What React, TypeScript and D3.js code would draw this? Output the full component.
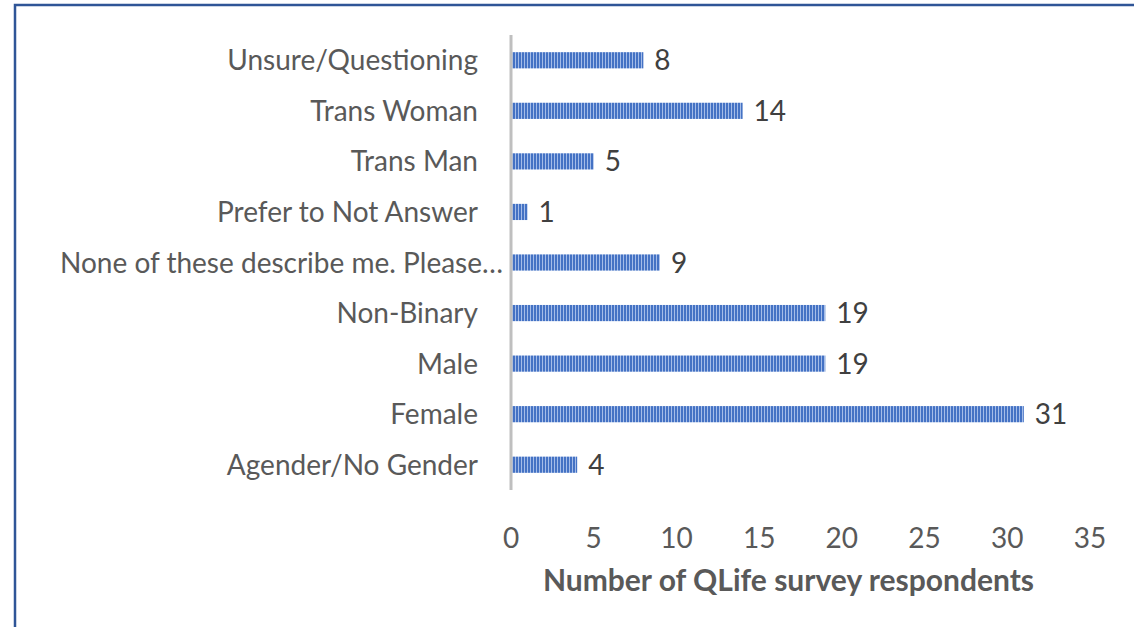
import React from 'react';
import * as d3 from 'd3';

const categories = [
  'Unsure/Questioning',
  'Trans Woman',
  'Trans Man',
  'Prefer to Not Answer',
  'None of these describe me. Please…',
  'Non-Binary',
  'Male',
  'Female',
  'Agender/No Gender',
];
const counts = [8, 14, 5, 1, 9, 19, 19, 31, 4];
const xTicks = [0, 5, 10, 15, 20, 25, 30, 35];
const axisTitle = 'Number of QLife survey respondents';

const W = 1134;
const H = 627;
const font = 'Lato, "Open Sans", sans-serif';
const textColor = '#595959';

const App: React.FC = () => {
  const x = d3.scaleLinear().domain([0, 35]).range([511, 1090]);
  const y = d3.scaleBand<string>().domain(categories).range([35, 490]).paddingInner(0.68).paddingOuter(0.34);

  return (
    <svg width={W} height={H} style={{ position: 'absolute', left: 0, top: 0 }}>
      <defs>
        <pattern id="stripes" width={3} height={10} patternUnits="userSpaceOnUse">
          <rect width={3} height={10} fill="#A4BCE8" />
          <rect width={2} height={10} fill="#4472C4" />
        </pattern>
      </defs>
      <rect x={0} y={0} width={W} height={H} fill="#fff" />
      <rect x={15} y={5} width={W + 20} height={H + 20} fill="none" stroke="#2F5597" strokeWidth={2.5} />

      {categories.map((c, i) => (
        <g key={c}>
          <rect
            x={x(0) + 1}
            y={y(c)!}
            width={x(counts[i]) - x(0) - 1}
            height={y.bandwidth()}
            fill="url(#stripes)"
          />
          <text
            x={x(counts[i]) + 11}
            y={y(c)! + y.bandwidth() / 2}
            dy="0.36em"
            fontFamily={font}
            fontSize={28}
            fill="#404040"
          >
            {counts[i]}
          </text>
          <text
            x={c.endsWith('…') ? 503 : 478}
            y={y(c)! + y.bandwidth() / 2}
            dy="0.36em"
            textAnchor="end"
            fontFamily={font}
            fontSize={28}
            fill={textColor}
          >
            {c}
          </text>
        </g>
      ))}

      <line x1={x(0)} x2={x(0)} y1={35} y2={490} stroke="#BFBFBF" strokeWidth={3} />

      {xTicks.map((t) => (
        <text
          key={t}
          x={x(t)}
          y={538}
          dy="0.36em"
          textAnchor="middle"
          fontFamily={font}
          fontSize={28}
          fill={textColor}
        >
          {t}
        </text>
      ))}

      <text
        x={(x(0) + x(35)) / 2 - 12}
        y={580}
        dy="0.36em"
        textAnchor="middle"
        fontFamily={font}
        fontSize={30}
        fontWeight="bold"
        fill={textColor}
      >
        {axisTitle}
      </text>
    </svg>
  );
};

export default App;
